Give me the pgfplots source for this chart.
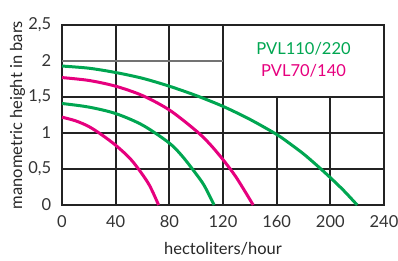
\documentclass[border=0pt]{standalone}
\usepackage{fontspec}
\setmainfont{Lato}
\usepackage{pgfplots}
\pgfplotsset{compat=1.18}
\definecolor{pvgreen}{RGB}{0,166,81}
\definecolor{pvmag}{RGB}{230,0,126}
\definecolor{gridc}{RGB}{35,35,35}
\newcommand\fs{\fontsize{16.5pt}{19pt}\selectfont}
\begin{document}
\fs
\begin{tikzpicture}
\begin{axis}[
  scale only axis, width=322pt, height=180pt,
  xmin=0, xmax=240, ymin=0, ymax=2.5,
  xtick={0,40,...,240}, ytick={0,0.5,1,1.5,2,2.5},
  major tick length=0pt,
  /pgf/number format/assume math mode=true,
  yticklabel style={/pgf/number format/use comma, /pgf/number format/fixed},
  tick label style={font=\fs, text=black!80},
  xticklabel style={yshift=-5pt},
  yticklabel style={xshift=-5pt},
  axis line style={gridc, line width=1.8pt},
  xlabel={hectoliters/hour}, ylabel={manometric height in bars},
  label style={font=\fs, text=black!85},
  xlabel style={yshift=-3pt},
  ylabel style={yshift=-8pt},
  clip=false,
]
\coordinate (ll) at (rel axis cs:0,0);
\coordinate (ur) at (rel axis cs:1,1);
% grid
\draw[gridc, line width=1.8pt] (axis cs:40,0) -- (axis cs:40,2.5);
\draw[gridc, line width=1.8pt] (axis cs:80,0) -- (axis cs:80,2.5);
\draw[gridc, line width=1.8pt] (axis cs:120,0) -- (axis cs:120,2.5);
\draw[gridc, line width=1.8pt] (axis cs:160,0) -- (axis cs:160,1.5);
\draw[gridc, line width=1.8pt] (axis cs:200,0) -- (axis cs:200,1.5);
\draw[gridc, line width=1.8pt] (axis cs:0,0.5) -- (axis cs:240,0.5);
\draw[gridc, line width=1.8pt] (axis cs:0,1) -- (axis cs:240,1);
\draw[gridc, line width=1.8pt] (axis cs:0,1.5) -- (axis cs:240,1.5);
\draw[black!55, line width=1.4pt] (axis cs:0,2) -- (axis cs:120,2);
% curves
\addplot[pvgreen, line width=3pt, smooth] coordinates {
 (0,1.93) (20,1.90) (40,1.84) (60,1.76) (80,1.65) (100,1.52) (120,1.37)
 (140,1.19) (160,0.98) (170,0.85) (180,0.71) (190,0.55) (200,0.38) (210,0.20) (220,0)};
\addplot[pvmag, line width=3pt, smooth] coordinates {
 (0,1.77) (20,1.73) (40,1.65) (60,1.52) (80,1.32) (100,1.03) (110,0.85) (120,0.63)
 (130,0.38) (142.5,0)};
\addplot[pvgreen, line width=3pt, smooth] coordinates {
 (0,1.41) (20,1.36) (40,1.27) (60,1.11) (80,0.86) (90,0.67) (100,0.43)
 (106,0.27) (113.4,0)};
\addplot[pvmag, line width=3pt, smooth] coordinates {
 (0,1.22) (10,1.17) (20,1.09) (30,0.97) (40,0.83) (50,0.66) (57,0.5)
 (65,0.28) (72,0)};
\node[text=pvgreen, font=\fs] at (axis cs:180,2.17) {PVL110/220};
\node[text=pvmag, font=\fs] at (axis cs:180,1.87) {PVL70/140};
\end{axis}
\pgfresetboundingbox
\path ([xshift=-62pt,yshift=-55pt]ll) rectangle ([xshift=14pt,yshift=25pt]ur);
\end{tikzpicture}
\end{document}
